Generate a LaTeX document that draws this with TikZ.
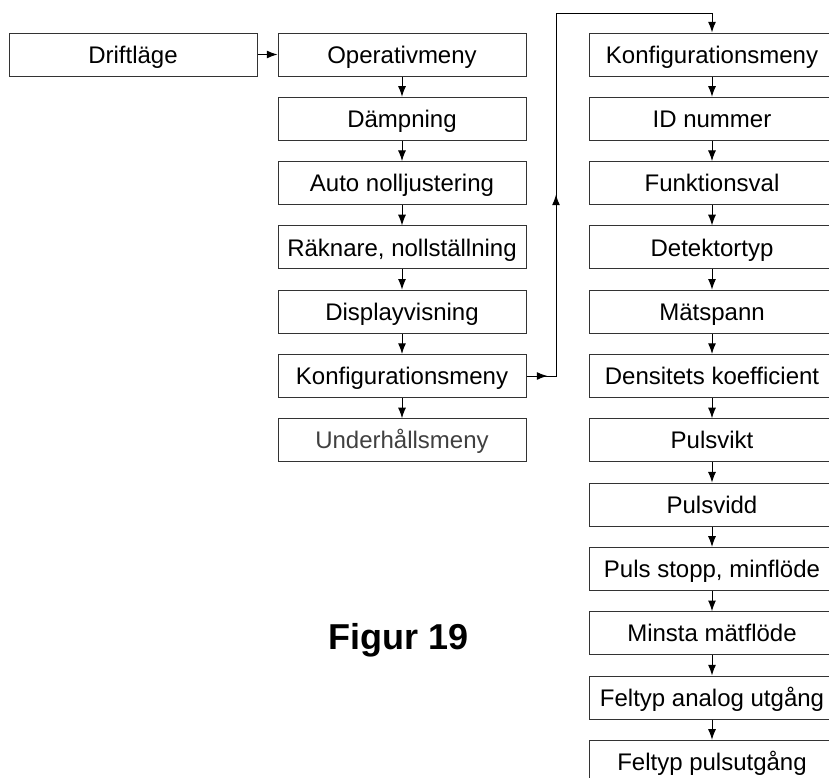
\documentclass[tikz,border=0pt]{standalone}
\usepackage{fontspec}
\setmainfont{Liberation Sans}
\usetikzlibrary{arrows.meta,decorations.markings}

\begin{document}
\begin{tikzpicture}[x=0.75pt,y=-0.75pt,
    menubox/.style={draw=black!80,line width=0.75pt,minimum width=186pt,
      minimum height=32.25pt,inner sep=0pt,text height=12.9pt,text depth=0pt,
      font=\fontsize{18}{20}\selectfont},
    confbox/.style={menubox,minimum width=184.5pt},
    flowtip/.tip={Latex[length=8pt,width=6pt]},
    flow/.style={line width=0.75pt,-flowtip}]
  \clip (0,0) rectangle (829,778);
  % driftlage and operativ menu
  \node[menubox] (drift) at (133,54.5) {Driftläge};
  \node[menubox] (oper) at (402,54.5) {Operativmeny};
  \node[menubox] (daemp) at (402,118.8) {Dämpning};
  \node[menubox] (autonoll) at (402,183.1) {Auto nolljustering};
  \node[menubox] (raekn) at (402,247.4) {Räknare, nollställning};
  \node[menubox] (disp) at (402,311.7) {Displayvisning};
  \node[menubox] (konf) at (402,376) {Konfigurationsmeny};
  \node[menubox,text=black!75] (underh) at (402,440.3) {Underhållsmeny};
  % configuration menu
  \node[confbox] (konfig) at (712,54.5) {Konfigurationsmeny};
  \node[confbox] (idnr) at (712,118.8) {ID nummer};
  \node[confbox] (funk) at (712,183.1) {Funktionsval};
  \node[confbox] (detek) at (712,247.4) {Detektortyp};
  \node[confbox] (maet) at (712,311.7) {Mätspann};
  \node[confbox] (dens) at (712,376) {Densitets koefficient};
  \node[confbox] (pvikt) at (712,440.3) {Pulsvikt};
  \node[confbox] (pvidd) at (712,504.6) {Pulsvidd};
  \node[confbox] (pstopp) at (712,568.9) {Puls stopp, minflöde};
  \node[confbox] (minsta) at (712,633.2) {Minsta mätflöde};
  \node[confbox] (fanalog) at (712,697.5) {Feltyp analog utgång};
  \node[confbox] (fpuls) at (712,761.8) {Feltyp pulsutgång};
  \node[anchor=base,font=\bfseries\fontsize{27}{30}\selectfont] (fig) at (399,649) {Figur 19};

  \draw[flow] (drift) -- (oper);
  \draw[flow] (oper) -- (daemp);
  \draw[flow] (daemp) -- (autonoll);
  \draw[flow] (autonoll) -- (raekn);
  \draw[flow] (raekn) -- (disp);
  \draw[flow] (disp) -- (konf);
  \draw[flow] (konf) -- (underh);

  \draw[flow] (konfig) -- (idnr);
  \draw[flow] (idnr) -- (funk);
  \draw[flow] (funk) -- (detek);
  \draw[flow] (detek) -- (maet);
  \draw[flow] (maet) -- (dens);
  \draw[flow] (dens) -- (pvikt);
  \draw[flow] (pvikt) -- (pvidd);
  \draw[flow] (pvidd) -- (pstopp);
  \draw[flow] (pstopp) -- (minsta);
  \draw[flow] (minsta) -- (fanalog);
  \draw[flow] (fanalog) -- (fpuls);

  % loop over to the configuration column
  \coordinate (turn) at (556,376);
  \coordinate (topleft) at (556,13);
  \coordinate (topright) at (712,13);
  \draw[flow,postaction=decorate,decoration={markings,
      mark=at position 15.75pt with {\arrow{flowtip}},
      mark=at position 158.25pt with {\arrow{flowtip}}}]
    (konf.east) -- (turn) -- (topleft) -- (topright) -- (konfig.north);
\end{tikzpicture}
\end{document}
